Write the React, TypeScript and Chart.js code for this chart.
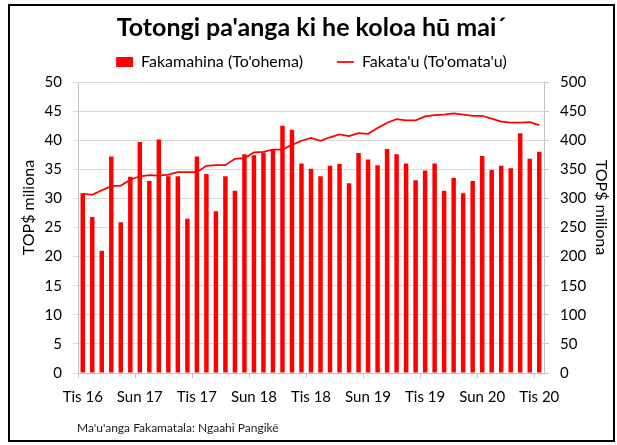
import React, { useEffect, useRef } from 'react';
import { Chart, registerables } from 'chart.js';

Chart.register(...registerables);

const TITLE = "Totongi pa'anga ki he koloa hū mai´";
const BAR_LABEL = "Fakamahina (To'ohema)";
const LINE_LABEL = "Fakata'u (To'omata'u)";
const AXIS_TITLE = 'TOP$ miliona';
const SOURCE = "Ma'u'anga Fakamatala: Ngaahi Pangikē";

const months = [
  'Tis 16',
  'San 17', 'Fep 17', 'Maa 17', 'Epe 17', 'Me 17', 'Sun 17', 'Siu 17', 'Aok 17', 'Sep 17', 'Oka 17', 'Nov 17', 'Tis 17',
  'San 18', 'Fep 18', 'Maa 18', 'Epe 18', 'Me 18', 'Sun 18', 'Siu 18', 'Aok 18', 'Sep 18', 'Oka 18', 'Nov 18', 'Tis 18',
  'San 19', 'Fep 19', 'Maa 19', 'Epe 19', 'Me 19', 'Sun 19', 'Siu 19', 'Aok 19', 'Sep 19', 'Oka 19', 'Nov 19', 'Tis 19',
  'San 20', 'Fep 20', 'Maa 20', 'Epe 20', 'Me 20', 'Sun 20', 'Siu 20', 'Aok 20', 'Sep 20', 'Oka 20', 'Nov 20', 'Tis 20',
];

// Monthly imports payments (left axis, TOP$ million)
const monthlyImports = [
  30.9, 26.8, 21.0, 37.2, 25.9, 33.7, 39.7, 33.0, 40.1, 33.8, 33.8, 26.5, 37.2,
  34.2, 27.8, 33.8, 31.3, 37.6, 37.4, 37.9, 38.5, 42.5, 41.8, 36.0, 35.1,
  33.8, 35.6, 35.9, 32.6, 37.8, 36.7, 35.7, 38.5, 37.6, 36.0, 33.1, 34.8,
  36.0, 31.3, 33.5, 30.9, 33.0, 37.3, 34.9, 35.6, 35.2, 41.2, 36.8, 38.0,
];

// Annual (12-month) imports payments (right axis, TOP$ million)
const annualImports = [
  308, 306, 314, 321, 322, 332, 338, 340, 339, 341, 345, 345, 345,
  356, 357, 357, 368, 369, 379, 380, 384, 384, 392, 399, 404,
  399, 405, 410, 407, 412, 411, 421, 430, 436, 434, 434, 441,
  443, 444, 446, 444, 442, 442, 437, 432, 430, 430, 431, 426,
];

const leftMax = 50;
const leftStep = 5;
const rightMax = 500;
const rightStep = 50;

const FONT = 'Lato';
const GRID = '#d9d9d9';
const AXIS = '#c4c4c4';

const annotate = {
  id: 'annotate',
  afterDraw(chart: any) {
    const { ctx, chartArea } = chart;
    const midY = chartArea.top + (chartArea.bottom - chartArea.top) / 2 - 20;
    ctx.save();
    ctx.fillStyle = '#000';
    ctx.font = `16px ${FONT}`;
    ctx.textAlign = 'center';
    ctx.textBaseline = 'middle';
    ctx.save();
    ctx.translate(chartArea.left - 49, midY);
    ctx.rotate(-Math.PI / 2);
    ctx.fillText(AXIS_TITLE, 0, 0);
    ctx.restore();
    ctx.save();
    ctx.translate(chartArea.right + 57, midY);
    ctx.rotate(Math.PI / 2);
    ctx.fillText(AXIS_TITLE, 0, 0);
    ctx.restore();
    ctx.font = `12px ${FONT}`;
    ctx.fillStyle = '#1a1a1a';
    ctx.textAlign = 'left';
    ctx.fillText(SOURCE, chartArea.left - 1, chartArea.bottom + 55);
    ctx.restore();
  },
};

export default function App() {
  const ref = useRef<HTMLCanvasElement | null>(null);

  useEffect(() => {
    if (!ref.current) return;
    const chart = new Chart(ref.current, {
      data: {
        labels: months,
        datasets: [
          {
            type: 'line',
            label: LINE_LABEL,
            data: annualImports,
            borderColor: '#ff0000',
            backgroundColor: '#ff0000',
            borderWidth: 1.75,
            pointRadius: 0,
            pointStyle: 'line',
            tension: 0,
            yAxisID: 'y1',
            order: 0,
          } as any,
          {
            type: 'bar',
            label: BAR_LABEL,
            data: monthlyImports,
            backgroundColor: '#ff0000',
            borderWidth: 0,
            pointStyle: 'rect',
            barPercentage: 0.47,
            categoryPercentage: 1,
            yAxisID: 'y',
            order: 1,
          } as any,
        ],
      },
      options: {
        responsive: false,
        animation: false,
        devicePixelRatio: 1,
        layout: { padding: { top: 0, left: 0, right: 0, bottom: 0 } },
        scales: {
          x: {
            type: 'category',
            offset: true,
            grid: {
              offset: true,
              drawOnChartArea: false,
              tickLength: 5,
              color: (c: any) => (c.index % 6 === 0 ? AXIS : 'rgba(0,0,0,0)'),
            },
            border: { color: AXIS },
            ticks: {
              autoSkip: false,
              maxRotation: 0,
              minRotation: 0,
              padding: 10,
              color: '#000',
              font: { family: FONT, size: 15 },
              callback: (_v: any, i: number) => (i % 6 === 0 ? months[i] : ''),
            },
            afterFit: (s: any) => { s.height = 67; },
          },
          y: {
            position: 'left',
            min: 0,
            max: leftMax,
            grid: { color: GRID, tickLength: 5 },
            border: { color: AXIS },
            ticks: { stepSize: leftStep, padding: 11, color: '#000', font: { family: FONT, size: 15 } },
            afterFit: (s: any) => { s.width = 68; },
          },
          y1: {
            position: 'right',
            min: 0,
            max: rightMax,
            grid: { drawOnChartArea: false, color: AXIS, tickLength: 5 },
            border: { color: AXIS },
            ticks: { stepSize: rightStep, padding: 11, color: '#000', font: { family: FONT, size: 15 } },
            afterFit: (s: any) => { s.width = 69; },
          },
        },
        plugins: {
          title: {
            display: true,
            text: TITLE,
            color: '#000',
            font: { family: FONT, size: 25, weight: 'bold' },
            padding: { top: 7, bottom: -23 },
          },
          subtitle: {
            display: true,
            text: ' ',
            position: 'top',
            weight: 500,
            font: { size: 2, lineHeight: 1 },
            padding: 0,
          } as any,
          legend: {
            display: true,
            position: 'top',
            reverse: true,
            labels: {
              usePointStyle: true,
              pointStyleWidth: 17,
              boxHeight: 10,
              padding: 34,
              color: '#000',
              font: { family: FONT, size: 16 },
            },
          },
          tooltip: { enabled: false },
        },
      } as any,
      plugins: [annotate],
    });
    return () => chart.destroy();
  }, []);

  return (
    <div
      style={{
        position: 'absolute',
        left: 8,
        top: 4,
        width: 603,
        height: 434,
        border: '2px solid #000',
        background: '#fff',
      }}
    >
      <canvas ref={ref} width={603} height={434} style={{ display: 'block' }} />
    </div>
  );
}
